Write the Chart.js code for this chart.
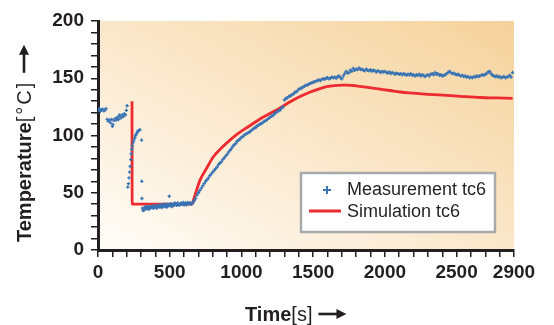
<!DOCTYPE html>
<html lang="en">
<head>
<meta charset="UTF-8" />
<title>Temperature tc6</title>
<script src="https://cdn.jsdelivr.net/npm/chart.js"></script>
<style>
  html, body { margin: 0; padding: 0; background: #fff; }
</style>
</head>
<body>
<canvas id="myChart" width="554" height="325"></canvas>
<script>
// measured thermocouple tc6
const measTime = [
  0, 8, 16, 24, 32, 40, 48, 56,
  64, 72, 80, 88, 96, 100, 104, 112, 120, 128, 136, 144, 150, 152, 160, 168, 176, 184, 192, 198, 203,
  208, 212, 216, 220, 224, 228, 232, 236, 240, 245, 250, 256, 262, 268, 274, 280, 286, 292,
  304, 305, 306, 497,
  310, 320, 330, 340, 350, 360, 370, 380, 390, 400, 410, 420, 430, 440, 450, 460, 470, 480, 490, 500,
  510, 520, 530, 540, 550, 560, 570, 580, 590, 600, 610, 620, 630, 640, 650,
  315, 325, 335, 345, 355, 365, 375, 385, 395, 405, 415, 425, 435, 445, 455, 465, 475, 485, 495, 505,
  515, 525, 535, 545, 555, 565, 575, 585, 595, 605, 615, 625, 635, 645,
  660, 670, 680, 690, 700, 710, 720, 730, 740, 750, 760, 770, 780, 790, 800, 810, 820, 830, 840, 850,
  860, 870, 880, 890, 900, 910, 920, 930, 940, 950, 960, 970, 980, 990, 1000, 1010, 1020, 1030, 1040, 1050,
  1060, 1070, 1080, 1090, 1100, 1110, 1120, 1130, 1140, 1150, 1160, 1170, 1180, 1190, 1200, 1210, 1220, 1230, 1240, 1250,
  1260, 1270, 1280, 1290,
  1300, 1310, 1320, 1330, 1340, 1350, 1360, 1370, 1380, 1390,
  1400, 1410, 1420, 1430, 1440, 1450, 1460, 1470, 1480, 1490,
  1500, 1510, 1520, 1530, 1540, 1550, 1560, 1570, 1580, 1590,
  1600, 1610, 1620, 1630, 1640, 1650, 1660, 1670, 1680, 1690,
  1700, 1710, 1720, 1730, 1740, 1750, 1760, 1770, 1780, 1790,
  1800, 1810, 1820, 1830, 1840, 1850, 1860, 1870, 1880, 1890,
  1900, 1910, 1920, 1930, 1940, 1950, 1960, 1970, 1980, 1990,
  2000, 2010, 2020, 2030, 2040, 2050, 2060, 2070, 2080, 2090,
  2100, 2110, 2120, 2130, 2140, 2150, 2160, 2170, 2180, 2190,
  2200, 2210, 2220, 2230, 2240, 2250, 2260, 2270, 2280, 2290,
  2300, 2310, 2320, 2330, 2340, 2350, 2360, 2370, 2380, 2390,
  2400, 2410, 2420, 2430, 2440, 2450, 2460, 2470, 2480, 2490,
  2500, 2510, 2520, 2530, 2540, 2550, 2560, 2570, 2580, 2590,
  2600, 2610, 2620, 2630, 2640, 2650, 2660, 2670, 2680, 2690,
  2700, 2710, 2720, 2730, 2740, 2750, 2760, 2770, 2780, 2790,
  2800, 2810, 2820, 2830, 2840, 2850, 2860, 2870, 2880, 2890
];
const measTemp = [
  122, 123.5, 121, 122.5, 123, 121.5, 122, 123.5,
  114, 112.5, 113.5, 111, 114, 108, 109.5, 113, 115, 113.5, 116, 114, 118, 117, 115.5, 118, 116.5, 119, 118, 122, 126,
  55, 58, 63, 68, 73, 79, 84, 88, 91, 94, 96, 98, 100, 101.5, 103, 104, 104.5, 105,
  96, 60, 45, 47,
  36.5, 35, 37.5, 36, 38, 36.5, 37, 38.5, 37, 38, 36.5, 39, 37.5, 38, 39.5, 38, 39, 37.5, 39.5, 38.5,
  40, 38.5, 39, 40.5, 39, 40, 39.5, 41, 40, 39.5, 41, 40, 40.5, 41, 40,
  34.5, 37, 36, 38, 35.5, 37.5, 38, 36.5, 38.5, 37, 39, 38, 39.5, 37, 38.5, 40, 38, 40, 39, 40.5,
  38, 40, 41, 39.5, 41, 39, 40.5, 40, 41.5, 40, 39.5, 41.5, 40.5, 41,
  41, 43, 45, 48, 50, 52, 54, 56, 58, 60, 61.5, 63, 65, 66.5, 68, 69.5, 71, 72.5, 74.5, 76,
  77, 79, 80.5, 82, 83.5, 85.5, 87, 88.5, 90.5, 92, 93, 95, 96, 97, 98.5, 99, 100.5, 101, 102, 102.5,
  103.5, 104.5, 105.5, 106.5, 107, 108.5, 109, 110, 110.5, 111.5, 112.5, 113, 114, 115, 116, 117, 117.5, 119, 120, 121,
  121.5, 122.5, 124, 125,
  131, 132.5, 133, 134, 134.5, 135.5, 136, 137.5, 138, 139,
  140.5, 141, 141.5, 142.5, 143, 144, 144, 145, 145.5, 146,
  146.5, 147, 147.5, 148, 148.5, 148, 149, 149.5, 149, 150,
  150.5, 149.5, 150, 151, 150.5, 151, 150, 151.5, 152, 150.5,
  149.5, 152, 154, 156, 154.5, 155, 157, 156, 158.5, 157,
  158, 157.5, 159, 157.5, 158, 157, 156.5, 158, 157, 156.5,
  157.5, 156, 157, 156.5, 155.5, 156.5, 156, 155, 156, 155.5,
  156, 155, 154.5, 155.5, 154, 155, 154.5, 153.5, 154.5, 154,
  153.5, 154, 153, 154, 153.5, 152.5, 153.5, 153, 154, 152.5,
  153, 152, 153, 152.5, 153.5, 152, 153, 152.5, 151.5, 152.5,
  153, 152, 153.5, 154, 153, 155, 153.5, 154, 152.5, 153,
  152, 152.5, 153, 154, 155, 156, 155, 154, 154.5, 153.5,
  153, 153.5, 152.5, 152, 152.5, 151.5, 152, 151, 151.5, 150.5,
  151, 150.5, 151.5, 151, 152, 151.5, 152, 152.5, 153, 152.5,
  153.5, 154, 155.5, 156, 154, 152.5, 152, 151.5, 152, 151,
  151.5, 150.5, 151, 151.5, 150.5, 151, 151.5, 152.5, 151, 155
];

// simulation tc6
const simTime = [237, 238, 655, 665, 711, 760, 802, 860, 920, 980, 1039, 1100, 1150, 1210, 1269,
  1340, 1409, 1480, 1548, 1594, 1650, 1700, 1734, 1800, 1880, 1967, 2036, 2106, 2197, 2300,
  2431, 2550, 2664, 2780, 2890];
const simTemp = [130, 40, 40, 43.5, 61, 72, 81, 89, 96, 102, 107, 112, 116, 120, 124,
  129.5, 134, 138, 141, 142.6, 143.6, 144, 144, 143.4, 142, 140.5, 139.3, 138, 137, 136,
  135, 134, 133.2, 132.8, 132.4];

const xTickLabels = [0, 500, 1000, 1500, 2000, 2500, 2900];
const yTickLabels = [0, 50, 100, 150, 200];
const seriesNames = ["Measurement tc6", "Simulation tc6"];

const ink = "#231f20";
const blue = "#3873b4";
const red = "#ec2a2f";
const font = "'Liberation Sans', Arial, sans-serif";

// diagonal wash: pale at bottom-left, tan at top-right
const bgPlugin = {
  id: "bg",
  beforeDraw(chart) {
    const { ctx, chartArea: a } = chart;
    const w = a.right - a.left, h = a.bottom - a.top;
    const cx = a.left + w / 2, cy = a.top + h / 2;
    const len = Math.hypot(w, h);
    const ux = h / len, uy = -w / len;
    const half = (w / 2) * ux + (h / 2) * -uy;
    const g = ctx.createLinearGradient(cx - half * ux, cy - half * uy, cx + half * ux, cy + half * uy);
    g.addColorStop(0, "#fffdf9");
    g.addColorStop(0.5, "#fae7ca");
    g.addColorStop(1, "#f5d29b");
    ctx.save();
    ctx.fillStyle = g;
    ctx.fillRect(a.left, a.top, w, h);
    ctx.restore();
  }
};

function arrow(ctx, x, y, len) {
  ctx.beginPath();
  ctx.lineWidth = 2.6;
  ctx.moveTo(x, y);
  ctx.lineTo(x + len - 7, y);
  ctx.stroke();
  ctx.beginPath();
  ctx.moveTo(x + len, y);
  ctx.lineTo(x + len - 10, y - 5);
  ctx.lineTo(x + len - 10, y + 5);
  ctx.closePath();
  ctx.fill();
}

const decoPlugin = {
  id: "deco",
  afterDraw(chart) {
    const ctx = chart.ctx;
    ctx.save();
    ctx.fillStyle = ink;
    ctx.strokeStyle = ink;
    ctx.textBaseline = "alphabetic";

    // x title
    let x = 245;
    ctx.font = "bold 20px " + font;
    ctx.fillText("Time", x, 321);
    x += ctx.measureText("Time").width;
    ctx.font = "20px " + font;
    ctx.fillText("[s]", x, 321);
    x += ctx.measureText("[s]").width + 6;
    arrow(ctx, x, 314, 28);

    // y title
    ctx.translate(31, 242);
    ctx.rotate(-Math.PI / 2);
    x = 0;
    ctx.font = "bold 20px " + font;
    ctx.fillText("Temperature", x, 0);
    x += ctx.measureText("Temperature").width;
    ctx.font = "20px " + font;
    ctx.letterSpacing = "2px";
    ctx.fillText("[°C]", x, 0);
    x += ctx.measureText("[°C]").width + 8;
    ctx.letterSpacing = "0px";
    arrow(ctx, x, -7, 28);
    ctx.restore();

    // legend
    ctx.save();
    ctx.fillStyle = "#fff";
    ctx.fillRect(301, 173, 194, 59);
    ctx.strokeStyle = "#a6aaad";
    ctx.lineWidth = 2.5;
    ctx.strokeRect(301, 173, 194, 59);
    ctx.strokeStyle = blue;
    ctx.lineWidth = 2;
    ctx.beginPath();
    ctx.moveTo(323, 190); ctx.lineTo(331, 190);
    ctx.moveTo(327, 186); ctx.lineTo(327, 194);
    ctx.stroke();
    ctx.strokeStyle = red;
    ctx.lineWidth = 3;
    ctx.beginPath();
    ctx.moveTo(309, 211); ctx.lineTo(341, 211);
    ctx.stroke();
    ctx.fillStyle = ink;
    ctx.font = "18px " + font;
    ctx.textBaseline = "middle";
    ctx.fillText(seriesNames[0], 347, 190);
    ctx.fillText(seriesNames[1], 347, 212);
    ctx.restore();
  }
};

new Chart(document.getElementById("myChart"), {
  type: "scatter",
  data: {
    datasets: [
      {
        label: seriesNames[0],
        data: measTime.map((t, i) => ({ x: t, y: measTemp[i] })),
        pointStyle: "cross",
        pointRadius: 1.7,
        borderColor: blue,
        backgroundColor: blue,
        borderWidth: 1.3,
        showLine: false,
        order: 0
      },
      {
        label: seriesNames[1],
        data: simTime.map((t, i) => ({ x: t, y: simTemp[i] })),
        showLine: true,
        borderColor: red,
        borderWidth: 2.8,
        pointRadius: 0,
        cubicInterpolationMode: "monotone",
        order: 1
      }
    ]
  },
  options: {
    responsive: false,
    animation: false,
    layout: { padding: { left: 0, top: 21, right: 40, bottom: 0 } },
    plugins: { legend: { display: false }, tooltip: { enabled: false } },
    scales: {
      x: {
        type: "linear",
        min: 0,
        max: 2900,
        afterFit(scale) { scale.height = 75; },
        border: { display: true, color: ink, width: 3 },
        grid: { drawOnChartArea: false, drawTicks: true, tickLength: 7, color: ink, lineWidth: 1.5 },
        ticks: {
          stepSize: 100,
          autoSkip: false,
          maxRotation: 0,
          padding: 4,
          color: ink,
          font: { family: font, size: 19, weight: "bold" },
          callback: (v) => (xTickLabels.includes(v) ? String(v) : "")
        }
      },
      y: {
        min: 0,
        max: 200,
        afterFit(scale) { scale.width = 98; },
        border: { display: true, color: ink, width: 3 },
        grid: { drawOnChartArea: false, drawTicks: true, tickLength: 7, color: ink, lineWidth: 1.5 },
        ticks: {
          stepSize: 10,
          autoSkip: false,
          padding: 7,
          color: ink,
          font: { family: font, size: 19, weight: "bold" },
          callback: (v) => (yTickLabels.includes(v) ? String(v) : "")
        }
      }
    }
  },
  plugins: [bgPlugin, decoPlugin]
});
</script>
</body>
</html>
